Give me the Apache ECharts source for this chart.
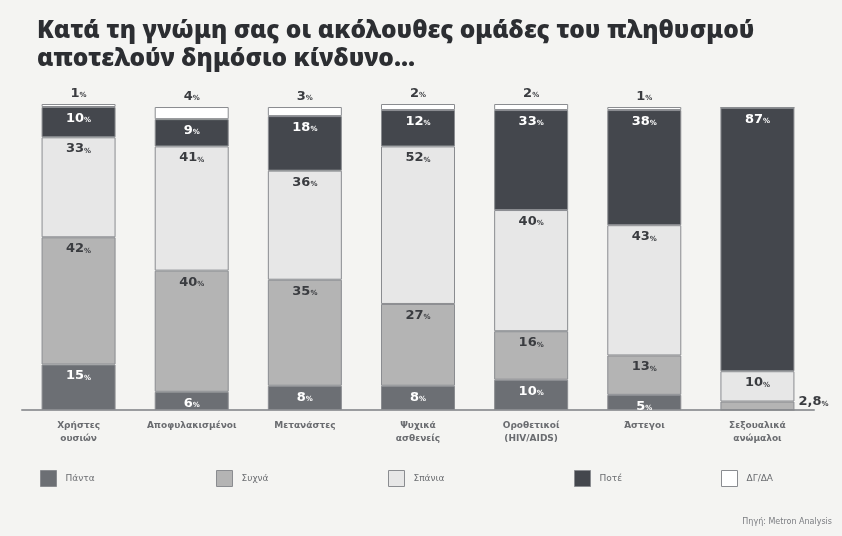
<!DOCTYPE html>
<html>
<head>
<meta charset="utf-8">
<script src="https://cdn.jsdelivr.net/npm/echarts@6/dist/echarts.min.js"></script>
<style>
  html, body { margin: 0; padding: 0; background: #f4f4f2; }
  #chart { width: 842px; height: 536px; }
</style>
</head>
<body>
<div id="chart"></div>
<script>
// Groups of the population
const categories = ['Χρήστες\nουσιών', 'Αποφυλακισμένοι', 'Μετανάστες', 'Ψυχικά\nασθενείς',
  'Οροθετικοί\n(HIV/AIDS)', 'Άστεγοι', 'Σεξουαλικά\nανώμαλοι'];

// Answer shares (%) per group, stacked bottom to top
const seriesNames = ['Πάντα', 'Συχνά', 'Σπάνια', 'Ποτέ', 'ΔΓ/ΔΑ'];
const pantaVals  = [15, 6, 8, 8, 10, 5, 0];
const syxnaVals  = [42, 40, 35, 27, 16, 13, 2.8];
const spaniaVals = [33, 41, 36, 52, 40, 43, 10];
const poteVals   = [10, 9, 18, 12, 33, 38, 87];
const dkVals     = [1, 4, 3, 2, 2, 1, 0];

const valueSets = [pantaVals, syxnaVals, spaniaVals, poteVals, dkVals];
const fills = ['#6c6f74', '#b4b4b4', '#e7e7e7', '#44474d', '#ffffff'];
const textCols = ['#ffffff', '#3a3c40', '#3a3c40', '#ffffff', '#3a3c40'];

const fmtNum = v => String(v).replace('.', ',');

function richFor(col) {
  return {
    n: { fontFamily: 'DejaVu Sans', fontWeight: 'bold', fontSize: 13, color: col },
    p: { fontFamily: 'DejaVu Sans', fontWeight: 'bold', fontSize: 7, color: col, verticalAlign: 'bottom', padding: [0, 0, 1, 0] }
  };
}

function makeLabel(i) {
  return {
    show: true,
    position: i === 4 ? 'top' : 'insideTop',
    distance: i === 4 ? 4 : 5,
    formatter: p => (p.value > 0 ? '{n|' + fmtNum(p.value) + '}{p|%}' : ''),
    rich: richFor(textCols[i])
  };
}

const series = valueSets.map((vals, i) => ({
  name: seriesNames[i],
  type: 'bar',
  stack: 'total',
  barWidth: 74,
  clip: false,
  itemStyle: { color: fills[i], borderColor: '#8a8c90', borderWidth: 1 },
  label: makeLabel(i),
  data: vals.map((v, j) => {
    // the thin bottom strip of the last bar carries its label beside it
    if (i === 1 && j === vals.length - 1) {
      return {
        value: v,
        label: { position: 'right', distance: 4, offset: [0, -4], rich: richFor('#3a3c40') }
      };
    }
    return v;
  })
}));

// one legend per entry, spread along the bottom
const legendLefts = [40, 216, 388, 574, 721];
const legends = seriesNames.map((name, i) => ({
  data: [{ name: name, icon: 'rect' }],
  left: legendLefts[i],
  top: 470,
  padding: 0,
  itemWidth: 16,
  itemHeight: 16,
  itemGap: 8,
  textStyle: { fontFamily: 'DejaVu Sans', fontSize: 9, color: '#6a6c70', padding: [0, 0, 0, 4] },
  itemStyle: { borderColor: '#8a8c90', borderWidth: 1 }
}));

const chart = echarts.init(document.getElementById('chart'), null, { renderer: 'canvas' });
chart.setOption({
  backgroundColor: '#f4f4f2',
  animation: false,
  title: {
    text: 'Κατά τη γνώμη σας οι ακόλουθες ομάδες του πληθυσμού\nαποτελούν δημόσιο κίνδυνο...',
    left: 37,
    top: 17,
    padding: 0,
    textStyle: { fontFamily: 'Noto Sans', fontWeight: 900, fontSize: 24.5, lineHeight: 28, color: '#2c2e32' }
  },
  graphic: [{
    type: 'text',
    right: 10,
    top: 518,
    style: { text: 'Πηγή: Metron Analysis', fontFamily: 'DejaVu Sans', fontSize: 8, fill: '#7a7c80' }
  }],
  legend: legends,
  grid: { left: 22, right: 28, top: 104, bottom: 126 },
  xAxis: {
    type: 'category',
    data: categories,
    axisLine: { show: true, lineStyle: { color: '#9a9c9f', width: 2 } },
    axisTick: { show: false },
    axisLabel: {
      interval: 0,
      margin: 9,
      lineHeight: 13,
      fontFamily: 'DejaVu Sans',
      fontWeight: 'bold',
      fontSize: 9,
      color: '#6a6c70'
    }
  },
  yAxis: {
    type: 'value',
    min: 0,
    max: 101,
    show: false,
    splitLine: { show: false }
  },
  series: series
});
</script>
</body>
</html>
